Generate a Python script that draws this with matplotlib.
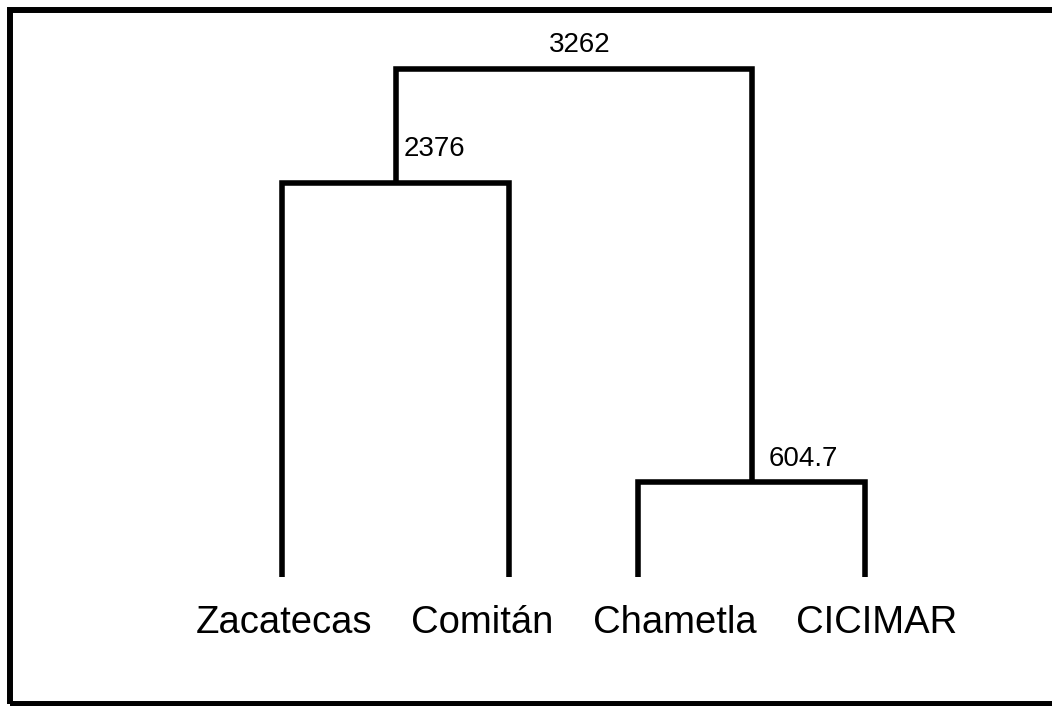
import matplotlib
matplotlib.use("Agg")
import matplotlib.pyplot as plt
from matplotlib.patches import Rectangle

plt.rcParams['font.family'] = ['Liberation Sans', 'DejaVu Sans']

# leaves (left to right) and their horizontal positions
leaf_names = ["Zacatecas", "Comitán", "Chametla", "CICIMAR"]
leaf_x = [0, 1, 1.57, 2.57]
# names sit evenly spaced under the tree, not exactly under each leaf
name_x = [0.01, 0.88, 1.73, 2.62]

# merges: pairs of cluster ids (0-3 leaves, 4+ new clusters), drawn level, label
merge_pairs = [(0, 1), (2, 3), (4, 5)]
merge_levels = [3.94, 0.95, 5.08]
merge_labels = ["2376", "604.7", "3262"]

W, H = 1052, 706
fig = plt.figure(figsize=(W / 100, H / 100), dpi=100)
ax = fig.add_axes([0, 0, 1, 1])
ax.set_xlim(-282 / 227, (W - 282) / 227)
ax.set_ylim(-(H - 577) / 100, 577 / 100)
ax.axis('off')

LW = 4.0
node_x = list(leaf_x)
node_y = [0] * len(leaf_x)
for (a, b), lev in zip(merge_pairs, merge_levels):
    xa, xb = node_x[a], node_x[b]
    ax.plot([xa, xa, xb, xb], [node_y[a], lev, lev, node_y[b]], color='black',
            lw=LW, solid_joinstyle='miter', solid_capstyle='butt')
    node_x.append((xa + xb) / 2)
    node_y.append(lev)

# merge value labels: (offset in points, alignment)
label_style = {"3262": ((4, 8), 'center'), "2376": ((6, 15), 'left'), "604.7": ((12, 7), 'left')}
for k, lab in enumerate(merge_labels):
    off, ha = label_style[lab]
    ax.annotate(lab, (node_x[4 + k], merge_levels[k]), xytext=off,
                textcoords='offset points', ha=ha, va='bottom', fontsize=20)

# leaf names
for x, name in zip(name_x, leaf_names):
    ax.annotate(name, (x, 0), xytext=(0, -40), textcoords='offset points',
                ha='center', va='baseline', fontsize=27.5)

# frame (right side runs off the picture)
fig.patches.append(Rectangle((10 / W, 2 / H), 1.05, (H - 12) / H, transform=fig.transFigure,
                             fill=False, edgecolor='black', lw=4.3))

fig.savefig("out.png", dpi=100)
